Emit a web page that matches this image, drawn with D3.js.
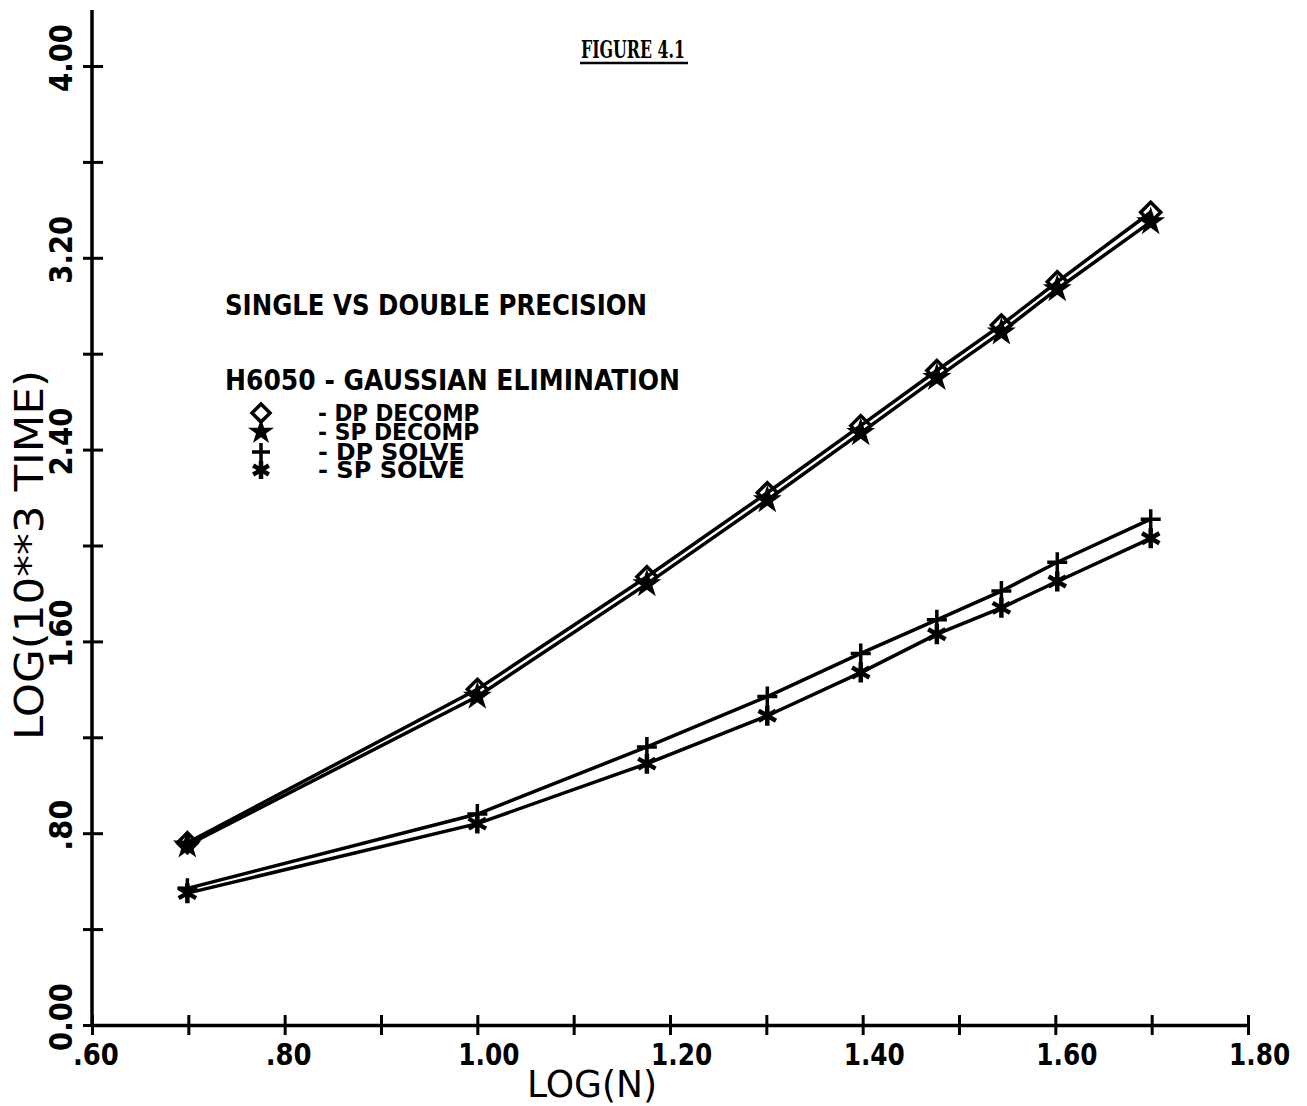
<!DOCTYPE html>
<html>
<head>
<meta charset="utf-8">
<script src="https://cdn.jsdelivr.net/npm/d3@7"></script>
<style>
  body { margin: 0; background: #fff; }
  svg { display: block; }
  text { font-family: "DejaVu Sans", sans-serif; fill: #000; }
</style>
</head>
<body>
<div id="chart"></div>
<script>
// log10 of problem size N = 5,10,15,20,25,30,35,40,50
var logN = [0.699, 1.000, 1.176, 1.301, 1.398, 1.477, 1.544, 1.602, 1.699];

var dpDecomp = [0.76, 1.40, 1.87, 2.22, 2.50, 2.73, 2.92, 3.10, 3.39];
var spDecomp = [0.75, 1.37, 1.84, 2.19, 2.47, 2.70, 2.89, 3.07, 3.35];
var dpSolve  = [0.57, 0.88, 1.16, 1.37, 1.55, 1.69, 1.81, 1.93, 2.11];
var spSolve  = [0.55, 0.84, 1.09, 1.29, 1.47, 1.63, 1.74, 1.85, 2.03];

var seriesNames = ["DP DECOMP", "SP DECOMP", "DP SOLVE", "SP SOLVE"];
var seriesMarks = ["diamond", "star", "plus", "asterisk"];

var xTicks = [0.6, 0.7, 0.8, 0.9, 1.0, 1.1, 1.2, 1.3, 1.4, 1.5, 1.6, 1.7, 1.8];
var xTickLabels = [".60", ".80", "1.00", "1.20", "1.40", "1.60", "1.80"];
var yTicks = [0, 0.4, 0.8, 1.2, 1.6, 2.0, 2.4, 2.8, 3.2, 3.6, 4.0];
var yTickLabels = ["0.00", ".80", "1.60", "2.40", "3.20", "4.00"];

var width = 1307, height = 1106;

var svg = d3.select("#chart").append("svg")
    .attr("width", width).attr("height", height);

var x = d3.scaleLinear().domain([0.6, 1.8]).range([92, 1248]);
var y = d3.scaleLinear().domain([0, 4]).range([1025, 66]);

// axes: plotter style, ticks cross the axis line
var xAxis = d3.axisBottom(x).tickValues(xTicks).tickFormat("").tickSizeOuter(0);
var gx = svg.append("g").attr("transform", "translate(0," + y(0) + ")").call(xAxis);
gx.select(".domain").attr("stroke-width", 3.5);
gx.selectAll(".tick line").attr("y1", -10).attr("y2", 10).attr("stroke-width", 3);

var yAxis = d3.axisLeft(y).tickValues(yTicks).tickFormat("").tickSizeOuter(0);
var gy = svg.append("g").attr("transform", "translate(" + x(0.6) + ",0)").call(yAxis);
gy.select(".domain").attr("d", "M0," + y(0) + "V10").attr("stroke-width", 3.5);
gy.selectAll(".tick line").attr("x1", -9).attr("x2", 11).attr("stroke-width", 3);

// tick labels
svg.selectAll("text.xlab")
    .data(xTickLabels)
    .enter().append("text")
    .attr("class", "xlab")
    .attr("x", function(d, i) { return x(0.6 + i * 0.2) - 19; })
    .attr("y", 1065)
    .attr("font-size", 31)
    .attr("font-weight", "bold")
    .attr("textLength", function(d) { return d.length * 15.3; })
    .attr("lengthAdjust", "spacingAndGlyphs")
    .text(function(d) { return d; });

svg.selectAll("text.ylab")
    .data(yTickLabels)
    .enter().append("text")
    .attr("class", "ylab")
    .attr("transform", function(d, i) {
        return "translate(72," + (y(i * 0.8) - 8) + ") rotate(-90)";
    })
    .attr("text-anchor", "middle")
    .attr("font-size", 32)
    .attr("font-weight", "bold")
    .attr("textLength", function(d) { return d.length * 17; })
    .attr("lengthAdjust", "spacingAndGlyphs")
    .text(function(d) { return d; });

// axis titles
svg.append("text")
    .attr("x", 527).attr("y", 1097)
    .attr("font-size", 38)
    .attr("textLength", 130)
    .attr("lengthAdjust", "spacingAndGlyphs")
    .text("LOG(N)");

svg.append("text")
    .attr("transform", "translate(43,740) rotate(-90)")
    .attr("font-size", 39)
    .attr("textLength", 370)
    .attr("lengthAdjust", "spacingAndGlyphs")
    .text("LOG(10**3 TIME)");

// figure caption
svg.append("text")
    .attr("x", 581).attr("y", 58)
    .attr("font-size", 24)
    .attr("font-weight", "bold")
    .attr("textLength", 104)
    .attr("lengthAdjust", "spacingAndGlyphs")
    .style("font-family", "'DejaVu Serif', serif")
    .text("FIGURE 4.1");
svg.append("line")
    .attr("x1", 580).attr("x2", 688).attr("y1", 63).attr("y2", 63)
    .attr("stroke", "#000").attr("stroke-width", 2.5);

// annotation
svg.append("text")
    .attr("x", 225).attr("y", 315)
    .attr("font-size", 29).attr("font-weight", "bold")
    .attr("textLength", 422).attr("lengthAdjust", "spacingAndGlyphs")
    .text("SINGLE VS DOUBLE PRECISION");
svg.append("text")
    .attr("x", 225).attr("y", 390)
    .attr("font-size", 29).attr("font-weight", "bold")
    .attr("textLength", 455).attr("lengthAdjust", "spacingAndGlyphs")
    .text("H6050 - GAUSSIAN ELIMINATION");

// markers
function drawMark(g, kind, cx, cy, s) {
    if (kind === "diamond") {
        g.append("path")
            .attr("d", "M" + cx + "," + (cy - s) + "L" + (cx + s) + "," + cy + "L" + cx + "," + (cy + s) + "L" + (cx - s) + "," + cy + "Z")
            .attr("fill", "none").attr("stroke", "#000").attr("stroke-width", 3.5);
    } else if (kind === "star") {
        g.append("path")
            .attr("d", d3.symbol(d3.symbolStar, s * s * 2.6)())
            .attr("transform", "translate(" + cx + "," + cy + ")")
            .attr("fill", "#000");
    } else if (kind === "plus") {
        g.append("path")
            .attr("d", "M" + (cx - s) + "," + cy + "H" + (cx + s) + "M" + cx + "," + (cy - s) + "V" + (cy + s))
            .attr("stroke", "#000").attr("stroke-width", 3.5);
    } else {
        var a = s * 0.87, b = s * 0.5;
        g.append("path")
            .attr("d", "M" + cx + "," + (cy - s) + "V" + (cy + s) +
                "M" + (cx - a) + "," + (cy - b) + "L" + (cx + a) + "," + (cy + b) +
                "M" + (cx - a) + "," + (cy + b) + "L" + (cx + a) + "," + (cy - b))
            .attr("stroke", "#000").attr("stroke-width", 4.5);
    }
}

var allSeries = [dpDecomp, spDecomp, dpSolve, spSolve];

var line = d3.line()
    .x(function(d, i) { return x(logN[i]); })
    .y(function(d) { return y(d); });

var plot = svg.append("g");
allSeries.forEach(function(vals, k) {
    plot.append("path")
        .datum(vals)
        .attr("d", line)
        .attr("fill", "none")
        .attr("stroke", "#000")
        .attr("stroke-width", 3.5);
    vals.forEach(function(v, i) {
        drawMark(plot, seriesMarks[k], x(logN[i]), y(v), 10);
    });
});

// legend (rows packed tightly, as on the plotter output)
var legendY = [413, 432, 452, 470];
var legend = svg.append("g");
seriesNames.forEach(function(name, k) {
    drawMark(legend, seriesMarks[k], 261, legendY[k], 9);
    legend.append("text")
        .attr("x", 318).attr("y", legendY[k] + 8)
        .attr("font-size", 23).attr("font-weight", "bold")
        .attr("textLength", name.length * 14.7 + 29)
        .attr("lengthAdjust", "spacingAndGlyphs")
        .text("- " + name);
});
</script>
</body>
</html>
